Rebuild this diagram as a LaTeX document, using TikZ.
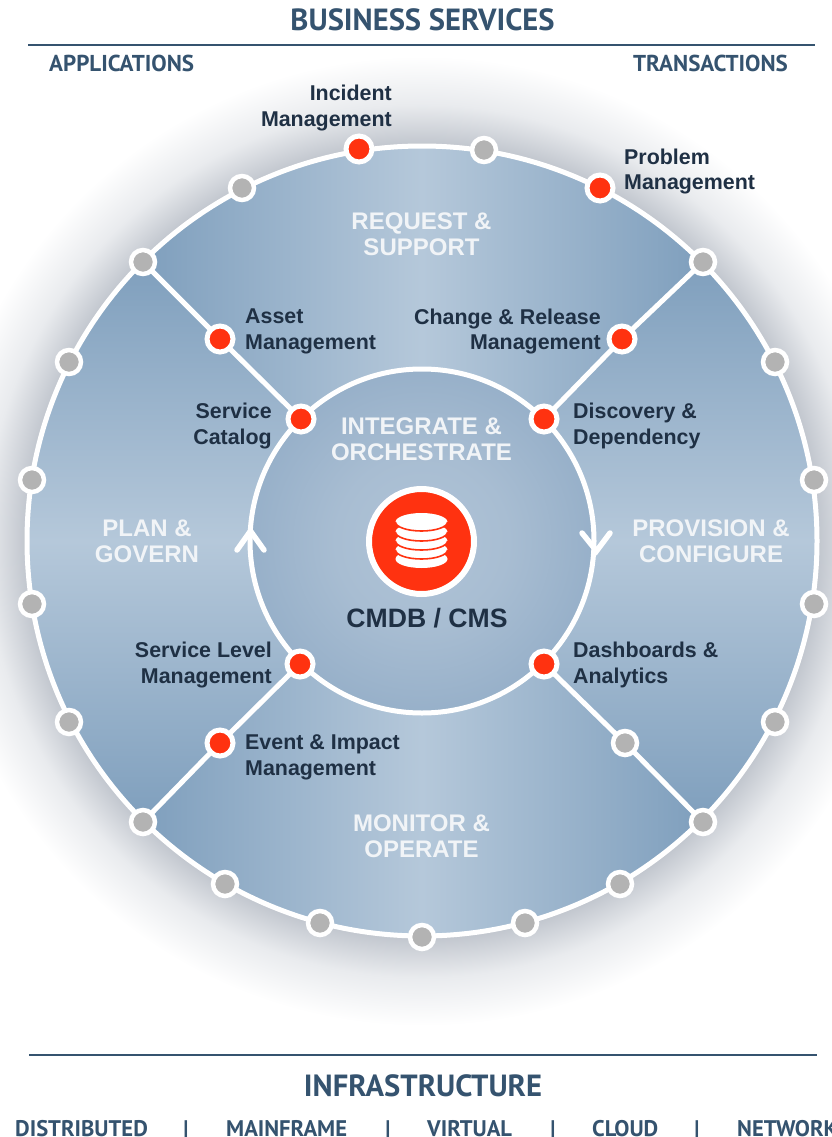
\documentclass[tikz,border=0pt]{standalone}
\usepackage{fontspec}
\setmainfont{Liberation Sans}
\newfontfamily\din{PT Sans}
\pgfdeclarelayer{bg}
\pgfdeclarelayer{lines}
\pgfsetlayers{bg,lines,main}
\definecolor{navy}{HTML}{35536F}
\definecolor{ink}{HTML}{1F3044}
\definecolor{pale}{HTML}{F1F4F7}
\definecolor{edgeblue}{HTML}{7F9FBD}
\definecolor{midblue}{HTML}{B5C8DA}
\definecolor{redc}{HTML}{FF3210}
\definecolor{grayc}{HTML}{B3B3B3}
\definecolor{glowa}{HTML}{C0C5CD}
\definecolor{glowb}{HTML}{E9EBEE}
\definecolor{inna}{HTML}{B0C4D7}
\definecolor{innb}{HTML}{A8BDD2}
\definecolor{innc}{HTML}{97B0C9}
\pgfdeclareradialshading{glowshade}{\pgfpoint{0bp}{0bp}}{color(0bp)=(glowa);color(20.36bp)=(glowa);color(22.5bp)=(glowb);color(25bp)=(white);color(50bp)=(white)}
\pgfdeclareradialshading{innshade}{\pgfpoint{0bp}{0bp}}{color(0bp)=(inna);color(12.5bp)=(innb);color(25bp)=(innc);color(50bp)=(innc)}
\tikzset{
  x=1pt,y=-1pt,
  reddot/.style={circle,draw=white,fill=redc,line width=5pt,minimum size=26pt,inner sep=0pt,outer sep=0pt},
  graydot/.style={circle,draw=white,fill=grayc,line width=4.5pt,minimum size=24pt,inner sep=0pt,outer sep=0pt},
  label/.style={text=ink,font=\fontsize{21.4}{25.5}\selectfont\bfseries,inner sep=0pt},
  lbright/.style={label,align=right,anchor=east},
  lbleft/.style={label,align=left,anchor=west},
  whitehead/.style={text=pale,font=\fontsize{24}{26}\selectfont\bfseries,align=center,inner sep=0pt},
  dinhead/.style={text=navy,font=\din\fontsize{30.6}{34}\selectfont\bfseries,inner sep=0pt},
  dinsub/.style={text=navy,font=\din\fontsize{23}{26}\selectfont\bfseries,inner sep=0pt},
  dinrow/.style={text=navy,font=\din\fontsize{22.6}{26}\selectfont\bfseries,inner sep=0pt},
  ring/.style={draw=white,line width=5pt},
  spoke/.style={draw=white,line width=5pt},
  chevron/.style={draw=white,line width=5.5pt,line cap=round,line join=miter},
  rule/.style={draw=navy,line width=2pt},
  sectorh/.style={left color=edgeblue,right color=edgeblue,middle color=midblue},
  sectorv/.style={top color=edgeblue,bottom color=edgeblue,middle color=midblue},
}
\begin{document}
\begin{tikzpicture}
\useasboundingbox (0,0) rectangle (831,1137);
\coordinate (c) at (422,541);

% dots
\node[reddot] (incident) at (359,149) {};
\node[reddot] (problem) at (600,188) {};
\node[reddot] (asset) at (220,339) {};
\node[reddot] (change) at (622,339) {};
\node[reddot] (catalog) at (301,419) {};
\node[reddot] (discovery) at (544,419) {};
\node[reddot] (sla) at (300,664) {};
\node[reddot] (dash) at (544,664) {};
\node[reddot] (event) at (220,743) {};
\node[graydot] (lowr) at (625,743) {};
\node[graydot] (tl) at (143,262) {};
\node[graydot] (tr) at (703,262) {};
\node[graydot] (bl) at (143,822) {};
\node[graydot] (br) at (703,822) {};
\foreach \n/\px/\py in {a/484/150,b/242/188,d/69/362,e/775/362,f/32/480,g/814/480,h/32/604,i/814/604,j/69/722,k/775/722,l/225/884,m/620/884,o/320/923,p/525/923,q/422/937}
  \node[graydot] (dot\n) at (\px,\py) {};

\begin{pgfonlayer}{bg}
  \shade[shading=glowshade] (c) circle[radius=485pt];
  \shade[sectorh] (c) -- ++(135:395pt) arc[start angle=135,end angle=45,radius=395pt] -- cycle;
  \shade[sectorh] (c) -- ++(225:395pt) arc[start angle=225,end angle=315,radius=395pt] -- cycle;
  \shade[sectorv] (c) -- ++(135:395pt) arc[start angle=135,end angle=225,radius=395pt] -- cycle;
  \shade[sectorv] (c) -- ++(45:395pt) arc[start angle=45,end angle=-45,radius=395pt] -- cycle;
\end{pgfonlayer}

\begin{pgfonlayer}{lines}
  \path[ring] (c) circle[radius=395pt];
  \shade[shading=innshade] (c) circle[radius=172pt];
  \path[ring] (c) circle[radius=172pt];
  \path[spoke] (tl) -- (asset) -- (catalog);
  \path[spoke] (tr) -- (change) -- (discovery);
  \path[spoke] (bl) -- (event) -- (sla);
  \path[spoke] (br) -- (lowr) -- (dash);
\end{pgfonlayer}

% flow chevrons
\coordinate (ra) at (582,533); \coordinate (rt) at (596.5,551); \coordinate (rb) at (610,533);
\coordinate (la) at (237,550); \coordinate (lt) at (250.5,531); \coordinate (lb) at (264,550);
\path[chevron] (ra) -- (rt) -- (rb);
\path[chevron] (la) -- (lt) -- (lb);

% central database icon
\node[circle,draw=white,fill=redc,line width=6pt,minimum size=105pt,inner sep=0pt,outer sep=0pt] (hub) at (421.5,541.5) {};
\foreach \yy in {559,550,541,532,522}{
  \fill[white] (421.5,\yy) ellipse[x radius=26pt,y radius=9pt];
  \ifnum\yy=559\else
    \draw[redc,line width=1.6pt] (395.5,\yy) arc[start angle=180,end angle=360,x radius=26pt,y radius=9pt];
  \fi
}

% labels
\node[lbright] (tIncident) at (392,108) {Incident\\Management};
\node[lbleft] (tProblem) at (624,171.5) {Problem\\Management};
\node[lbleft] (tAsset) at (245,331.5) {Asset\\Management};
\node[lbright] (tChange) at (601,331.5) {Change \& Release\\Management};
\node[lbright] (tCatalog) at (272,426) {Service\\Catalog};
\node[lbleft] (tDiscovery) at (573,426) {Discovery \&\\Dependency};
\node[lbright] (tSla) at (272,665) {Service Level\\Management};
\node[lbleft] (tDash) at (573,665) {Dashboards \&\\Analytics};
\node[lbleft] (tEvent) at (245,757.5) {Event \& Impact\\Management};

\node[whitehead] (tRequest) at (421.5,234) {REQUEST \&\\SUPPORT};
\node[whitehead] (tIntegrate) at (421.5,439) {INTEGRATE \&\\ORCHESTRATE};
\node[whitehead] (tPlan) at (147,541) {PLAN \&\\GOVERN};
\node[whitehead] (tProvision) at (711,541) {PROVISION \&\\CONFIGURE};
\node[whitehead] (tMonitor) at (421.5,836) {MONITOR \&\\OPERATE};
\node[text=ink,font=\fontsize{26.6}{30}\selectfont\bfseries,inner sep=0pt] (tCmdb) at (427,618) {CMDB / CMS};

% headings
\node[dinhead] (tBiz) at (422.5,20) {BUSINESS SERVICES};
\coordinate (r1a) at (28,45.5); \coordinate (r1b) at (815,45.5);
\path[rule] (r1a) -- (r1b);
\node[dinsub,anchor=west] (tApps) at (49,63) {APPLICATIONS};
\node[dinsub,anchor=east] (tTrans) at (788,63) {TRANSACTIONS};
\coordinate (r2a) at (29,1055); \coordinate (r2b) at (817,1055);
\path[rule] (r2a) -- (r2b);
\node[dinhead] (tInfra) at (423,1086) {INFRASTRUCTURE};
\node[dinrow,anchor=base west] (tDist) at (15,1136) {DISTRIBUTED};
\node[dinrow,anchor=base] (s1) at (186,1136) {|};
\node[dinrow,anchor=base west] (tMain) at (226,1136) {MAINFRAME};
\node[dinrow,anchor=base] (s2) at (388,1136) {|};
\node[dinrow,anchor=base west] (tVirt) at (427,1136) {VIRTUAL};
\node[dinrow,anchor=base] (s3) at (553,1136) {|};
\node[dinrow,anchor=base west] (tCloud) at (592,1136) {CLOUD};
\node[dinrow,anchor=base] (s4) at (697,1136) {|};
\node[dinrow,anchor=base west] (tNet) at (737,1136) {NETWORK};
\end{tikzpicture}
\end{document}
